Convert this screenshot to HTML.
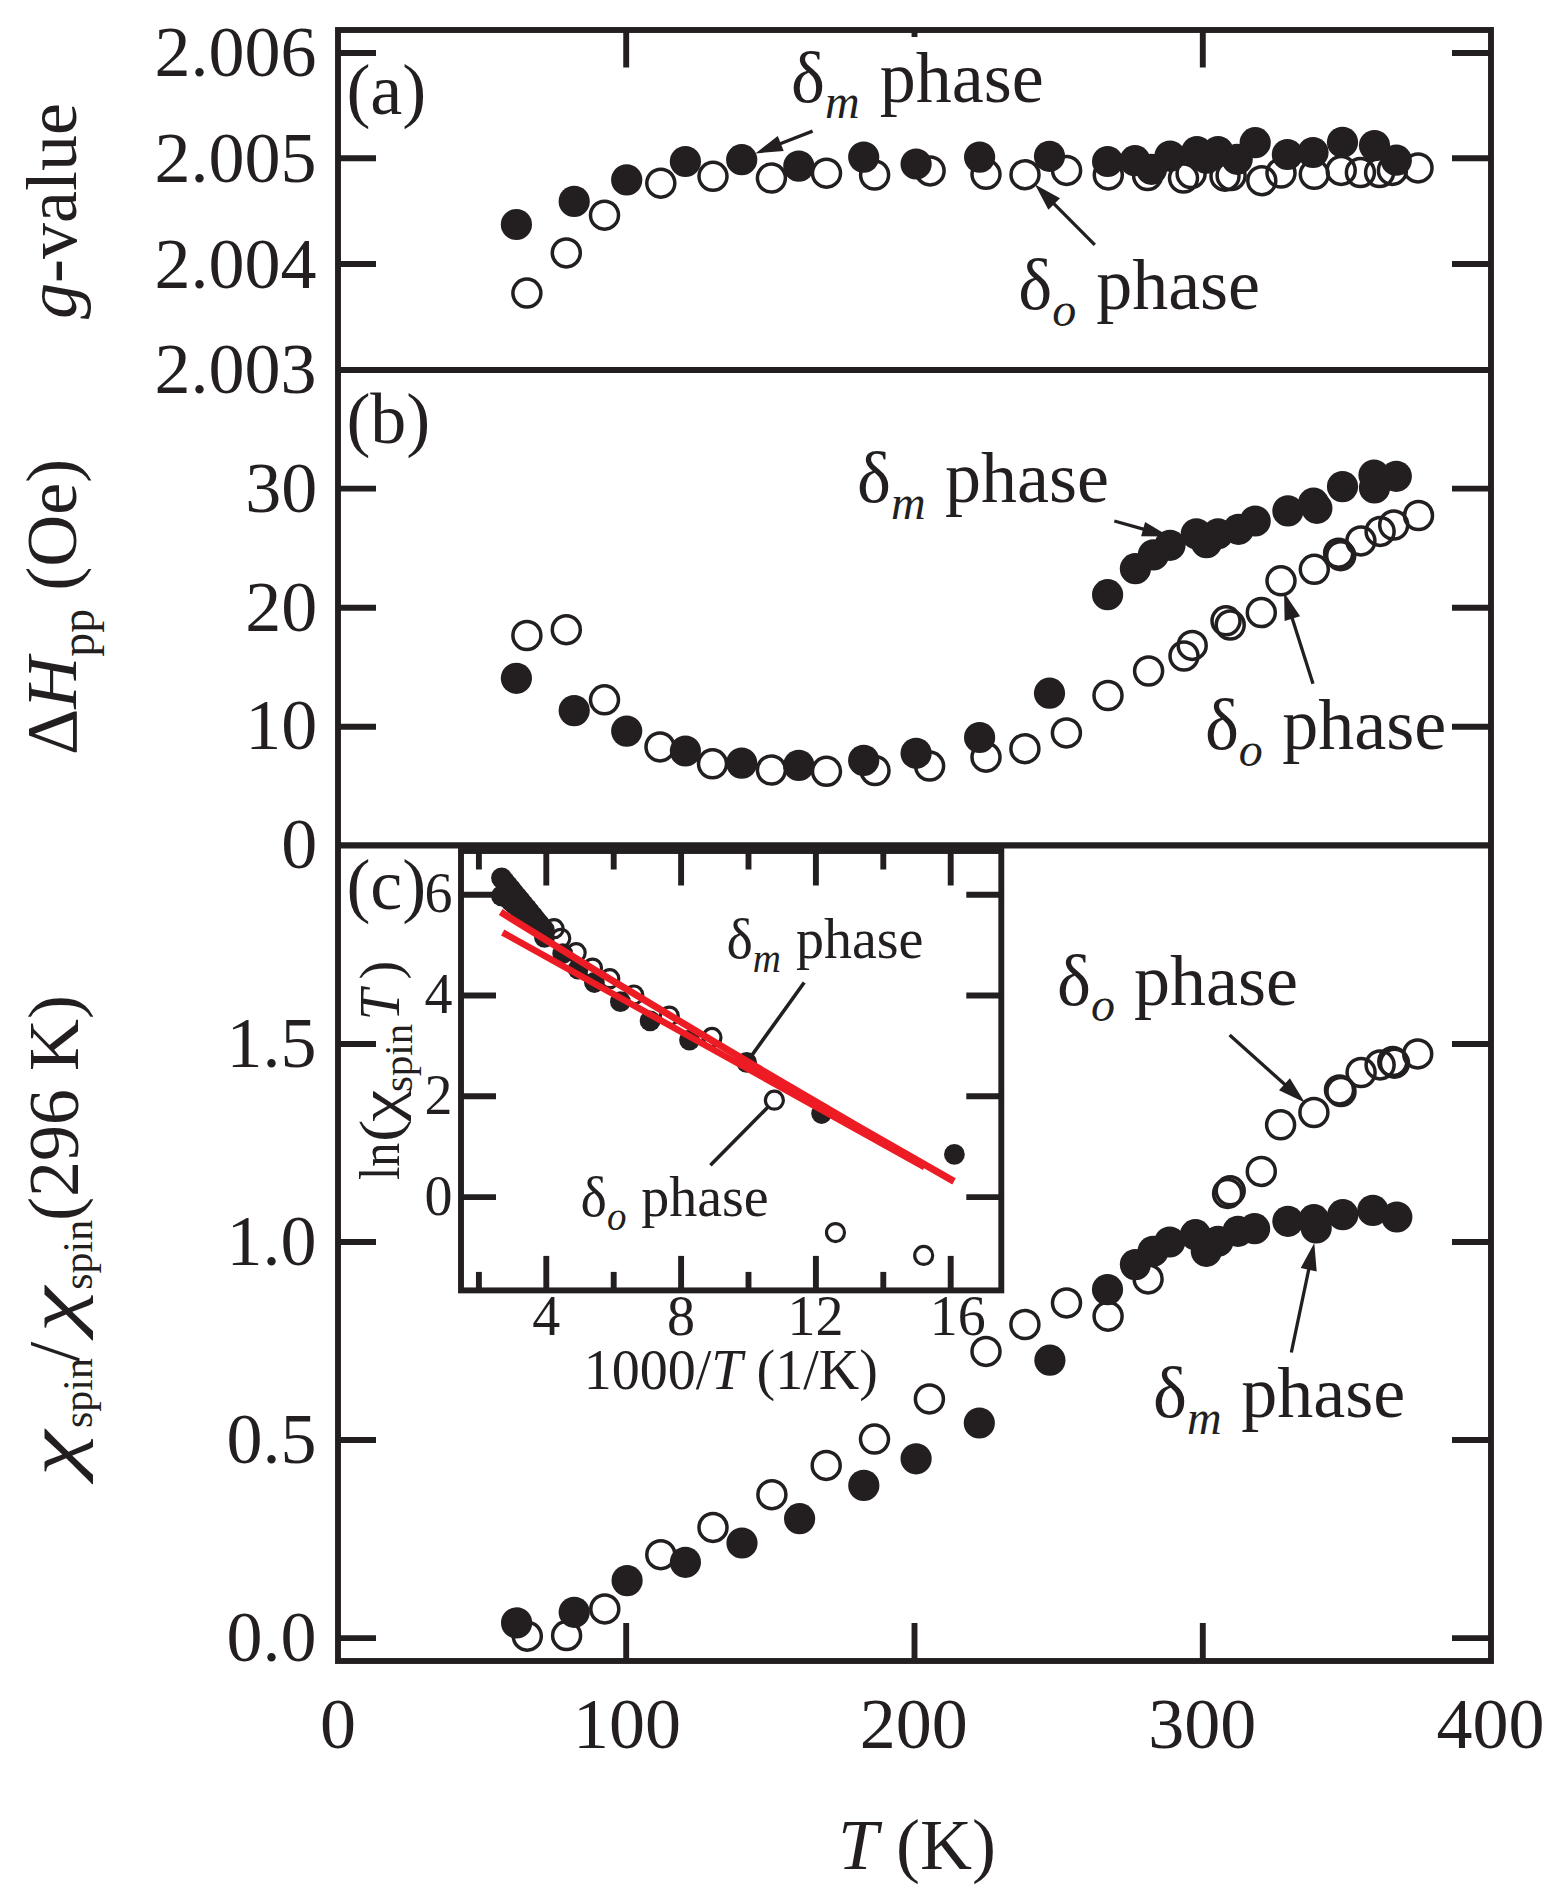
<!DOCTYPE html>
<html lang="en">
<head>
<meta charset="utf-8">
<title>ESR parameters versus temperature</title>
<style>
html,body{margin:0;padding:0;background:#fff;}
body{width:1562px;height:1902px;overflow:hidden;}
svg{display:block;}
text{font-family:"Liberation Serif","DejaVu Serif",serif;fill:#231f20;}
.m{font-size:72px;}
.s{font-size:56px;}
.i{font-style:italic;}
.f circle{fill:#231f20;}
.o circle{fill:none;stroke:#231f20;stroke-width:3.5;}
.oi circle{fill:none;stroke:#231f20;stroke-width:3.2;}
</style>
</head>
<body>
<svg width="1562" height="1902" viewBox="0 0 1562 1902">
<rect x="0" y="0" width="1562" height="1902" fill="#fff"/>

<g id="frame">
<rect x="338.0" y="30.0" width="1153.0" height="1631.0" fill="none" stroke="#231f20" stroke-width="5.9"/>
<line x1="338.0" y1="370.0" x2="1491.0" y2="370.0" stroke="#231f20" stroke-width="5.9" stroke-linecap="butt"/>
<line x1="338.0" y1="845.3" x2="1491.0" y2="845.3" stroke="#231f20" stroke-width="6.2" stroke-linecap="butt"/>
</g>
<g id="ticks">
<line x1="338.0" y1="53.0" x2="376.0" y2="53.0" stroke="#231f20" stroke-width="5.9" stroke-linecap="butt"/>
<line x1="1452.0" y1="53.0" x2="1491.0" y2="53.0" stroke="#231f20" stroke-width="5.9" stroke-linecap="butt"/>
<line x1="338.0" y1="158.2" x2="376.0" y2="158.2" stroke="#231f20" stroke-width="5.9" stroke-linecap="butt"/>
<line x1="1452.0" y1="158.2" x2="1491.0" y2="158.2" stroke="#231f20" stroke-width="5.9" stroke-linecap="butt"/>
<line x1="338.0" y1="264.0" x2="376.0" y2="264.0" stroke="#231f20" stroke-width="5.9" stroke-linecap="butt"/>
<line x1="1452.0" y1="264.0" x2="1491.0" y2="264.0" stroke="#231f20" stroke-width="5.9" stroke-linecap="butt"/>
<line x1="338.0" y1="488.6" x2="376.0" y2="488.6" stroke="#231f20" stroke-width="5.9" stroke-linecap="butt"/>
<line x1="1452.0" y1="488.6" x2="1491.0" y2="488.6" stroke="#231f20" stroke-width="5.9" stroke-linecap="butt"/>
<line x1="338.0" y1="607.7" x2="376.0" y2="607.7" stroke="#231f20" stroke-width="5.9" stroke-linecap="butt"/>
<line x1="1452.0" y1="607.7" x2="1491.0" y2="607.7" stroke="#231f20" stroke-width="5.9" stroke-linecap="butt"/>
<line x1="338.0" y1="726.8" x2="376.0" y2="726.8" stroke="#231f20" stroke-width="5.9" stroke-linecap="butt"/>
<line x1="1452.0" y1="726.8" x2="1491.0" y2="726.8" stroke="#231f20" stroke-width="5.9" stroke-linecap="butt"/>
<line x1="338.0" y1="1044.0" x2="376.0" y2="1044.0" stroke="#231f20" stroke-width="5.9" stroke-linecap="butt"/>
<line x1="1452.0" y1="1044.0" x2="1491.0" y2="1044.0" stroke="#231f20" stroke-width="5.9" stroke-linecap="butt"/>
<line x1="338.0" y1="1242.0" x2="376.0" y2="1242.0" stroke="#231f20" stroke-width="5.9" stroke-linecap="butt"/>
<line x1="1452.0" y1="1242.0" x2="1491.0" y2="1242.0" stroke="#231f20" stroke-width="5.9" stroke-linecap="butt"/>
<line x1="338.0" y1="1440.0" x2="376.0" y2="1440.0" stroke="#231f20" stroke-width="5.9" stroke-linecap="butt"/>
<line x1="1452.0" y1="1440.0" x2="1491.0" y2="1440.0" stroke="#231f20" stroke-width="5.9" stroke-linecap="butt"/>
<line x1="338.0" y1="1638.1" x2="376.0" y2="1638.1" stroke="#231f20" stroke-width="5.9" stroke-linecap="butt"/>
<line x1="1452.0" y1="1638.1" x2="1491.0" y2="1638.1" stroke="#231f20" stroke-width="5.9" stroke-linecap="butt"/>
<line x1="626.2" y1="30.0" x2="626.2" y2="67.5" stroke="#231f20" stroke-width="5.9" stroke-linecap="butt"/>
<line x1="1202.8" y1="30.0" x2="1202.8" y2="67.5" stroke="#231f20" stroke-width="5.9" stroke-linecap="butt"/>
<line x1="914.5" y1="30.0" x2="914.5" y2="37.0" stroke="#231f20" stroke-width="5.9" stroke-linecap="butt"/>
<line x1="626.2" y1="1661.0" x2="626.2" y2="1623.0" stroke="#231f20" stroke-width="5.9" stroke-linecap="butt"/>
<line x1="914.5" y1="1661.0" x2="914.5" y2="1623.0" stroke="#231f20" stroke-width="5.9" stroke-linecap="butt"/>
<line x1="1202.8" y1="1661.0" x2="1202.8" y2="1623.0" stroke="#231f20" stroke-width="5.9" stroke-linecap="butt"/>
</g>
<g id="ticklabels" class="m" text-anchor="end">
<text x="316.5" y="76.4">2.006</text>
<text x="316.5" y="182.1">2.005</text>
<text x="316.5" y="287.7">2.004</text>
<text x="316.5" y="393.4">2.003</text>
<text x="317.2" y="512.0">30</text>
<text x="317.2" y="630.9">20</text>
<text x="317.2" y="749.3">10</text>
<text x="317.2" y="867.8">0</text>
<text x="316.5" y="1066.6">1.5</text>
<text x="316.5" y="1264.6">1.0</text>
<text x="316.5" y="1462.6">0.5</text>
<text x="316.5" y="1660.7">0.0</text>
</g>
<g id="xticklabels" class="m" text-anchor="middle">
<text x="338.0" y="1748">0</text>
<text x="627.0" y="1748">100</text>
<text x="913.7" y="1748">200</text>
<text x="1202.2" y="1748">300</text>
<text x="1490.5" y="1748">400</text>
</g>
<g id="titles" class="m">
<text x="917" y="1869" text-anchor="middle"><tspan class="i">T</tspan> (K)</text>
<text transform="translate(75.8,211) rotate(-90)" text-anchor="middle"><tspan class="i">g</tspan>-value</text>
<text transform="translate(75.7,607) rotate(-90)" text-anchor="middle">Δ<tspan class="i">H</tspan><tspan font-size="48" dy="18">pp</tspan><tspan dy="-18"> (Oe)</tspan></text>
<g transform="translate(77.8,1484.8) rotate(-90)">
<text class="i" transform="translate(8.8,0) scale(1.43,1)">χ</text>
<text x="56.8" y="14.4" font-size="42">spin</text>
<text x="123" y="0">/</text>
<text class="i" transform="translate(152.6,0) scale(1.43,1)">χ</text>
<text x="195" y="14.4" font-size="42">spin</text>
<text x="263.8" y="0">(296 K)</text>
</g>
</g>
<g id="panellabels" class="m">
<text x="346.4" y="113.8">(a)</text>
<text x="346.4" y="442.8">(b)</text>
<text x="346.4" y="908.8">(c)</text>
</g>
<g id="pa">
<g class="o"><circle cx="526.9" cy="293.1" r="14.0"/>
<circle cx="566.3" cy="252.9" r="14.0"/>
<circle cx="604.5" cy="215.2" r="14.0"/>
<circle cx="660.8" cy="183.2" r="14.0"/>
<circle cx="713.0" cy="176.3" r="14.0"/>
<circle cx="771.4" cy="178.1" r="14.0"/>
<circle cx="826.5" cy="173.2" r="14.0"/>
<circle cx="874.6" cy="175.0" r="14.0"/>
<circle cx="930.1" cy="170.9" r="14.0"/>
<circle cx="986.0" cy="174.3" r="14.0"/>
<circle cx="1025.0" cy="174.7" r="14.0"/>
<circle cx="1066.6" cy="170.4" r="14.0"/>
<circle cx="1108.3" cy="174.9" r="14.0"/>
<circle cx="1147.6" cy="175.5" r="14.0"/>
<circle cx="1183.5" cy="178.1" r="14.0"/>
<circle cx="1191.1" cy="173.5" r="14.0"/>
<circle cx="1225.0" cy="176.2" r="14.0"/>
<circle cx="1231.1" cy="175.5" r="14.0"/>
<circle cx="1261.8" cy="180.7" r="14.0"/>
<circle cx="1281.0" cy="173.0" r="14.0"/>
<circle cx="1314.3" cy="174.3" r="14.0"/>
<circle cx="1341.2" cy="170.4" r="14.0"/>
<circle cx="1360.4" cy="172.5" r="14.0"/>
<circle cx="1379.6" cy="172.5" r="14.0"/>
<circle cx="1392.4" cy="170.4" r="14.0"/>
<circle cx="1418.0" cy="167.9" r="14.0"/></g>
<g class="f"><circle cx="516.4" cy="224.5" r="15.6"/>
<circle cx="574.2" cy="201.4" r="15.6"/>
<circle cx="626.7" cy="179.9" r="15.6"/>
<circle cx="685.4" cy="161.5" r="15.6"/>
<circle cx="741.7" cy="159.7" r="15.6"/>
<circle cx="798.8" cy="166.1" r="15.6"/>
<circle cx="863.7" cy="157.1" r="15.6"/>
<circle cx="916.1" cy="164.0" r="15.6"/>
<circle cx="979.6" cy="157.1" r="15.6"/>
<circle cx="1049.5" cy="156.3" r="15.6"/>
<circle cx="1107.6" cy="161.5" r="15.6"/>
<circle cx="1135.0" cy="160.7" r="15.6"/>
<circle cx="1151.5" cy="169.3" r="15.6"/>
<circle cx="1170.0" cy="156.1" r="15.6"/>
<circle cx="1196.9" cy="151.6" r="15.6"/>
<circle cx="1206.5" cy="158.2" r="15.6"/>
<circle cx="1218.0" cy="151.6" r="15.6"/>
<circle cx="1237.2" cy="159.3" r="15.6"/>
<circle cx="1255.2" cy="142.7" r="15.6"/>
<circle cx="1287.4" cy="154.5" r="15.6"/>
<circle cx="1313.0" cy="152.5" r="15.6"/>
<circle cx="1342.5" cy="142.3" r="15.6"/>
<circle cx="1374.5" cy="145.6" r="15.6"/>
<circle cx="1396.3" cy="160.2" r="15.6"/></g>
<line x1="812.6" y1="131.1" x2="778.9" y2="144.2" stroke="#231f20" stroke-width="3.3" stroke-linecap="butt"/><polygon points="755.3,153.4 777.8,135.9 783.7,151.1" fill="#231f20"/>
<line x1="1094.8" y1="244.9" x2="1052.8" y2="202.6" stroke="#231f20" stroke-width="3.3" stroke-linecap="butt"/><polygon points="1035.0,184.6 1060.0,198.2 1048.4,209.7" fill="#231f20"/>
<text class="m" x="791" y="101.5">δ<tspan class="i" font-size="48" dy="16.5">m</tspan><tspan dy="-16.5" dx="2.2"> phase</tspan></text>
<text class="m" x="1018.2" y="309.0">δ<tspan class="i" font-size="48" dy="16.5">o</tspan><tspan dy="-16.5" dx="2.0"> phase</tspan></text>
</g>
<g id="pb">
<g class="o"><circle cx="526.9" cy="635.5" r="14.0"/>
<circle cx="566.3" cy="629.7" r="14.0"/>
<circle cx="604.5" cy="699.8" r="14.0"/>
<circle cx="660.0" cy="746.9" r="14.0"/>
<circle cx="712.5" cy="763.8" r="14.0"/>
<circle cx="771.4" cy="770.0" r="14.0"/>
<circle cx="826.5" cy="771.3" r="14.0"/>
<circle cx="875.0" cy="770.5" r="14.0"/>
<circle cx="929.6" cy="766.1" r="14.0"/>
<circle cx="986.0" cy="757.2" r="14.0"/>
<circle cx="1024.9" cy="748.7" r="14.0"/>
<circle cx="1066.4" cy="732.9" r="14.0"/>
<circle cx="1108.0" cy="695.5" r="14.0"/>
<circle cx="1148.6" cy="671.0" r="14.0"/>
<circle cx="1184.0" cy="656.0" r="14.0"/>
<circle cx="1192.2" cy="645.4" r="14.0"/>
<circle cx="1226.0" cy="620.8" r="14.0"/>
<circle cx="1230.2" cy="625.0" r="14.0"/>
<circle cx="1261.3" cy="612.6" r="14.0"/>
<circle cx="1281.0" cy="580.8" r="14.0"/>
<circle cx="1314.3" cy="569.3" r="14.0"/>
<circle cx="1338.6" cy="553.2" r="14.0"/>
<circle cx="1340.7" cy="555.7" r="14.0"/>
<circle cx="1360.9" cy="540.9" r="14.0"/>
<circle cx="1380.1" cy="531.4" r="14.0"/>
<circle cx="1393.7" cy="525.0" r="14.0"/>
<circle cx="1418.5" cy="515.5" r="14.0"/></g>
<g class="f"><circle cx="516.4" cy="678.3" r="15.6"/>
<circle cx="574.2" cy="710.6" r="15.6"/>
<circle cx="626.7" cy="731.1" r="15.6"/>
<circle cx="685.4" cy="751.0" r="15.6"/>
<circle cx="741.7" cy="763.1" r="15.6"/>
<circle cx="798.8" cy="765.4" r="15.6"/>
<circle cx="863.7" cy="760.4" r="15.6"/>
<circle cx="916.1" cy="753.3" r="15.6"/>
<circle cx="979.6" cy="737.5" r="15.6"/>
<circle cx="1049.5" cy="693.2" r="15.6"/>
<circle cx="1107.6" cy="594.7" r="15.6"/>
<circle cx="1135.4" cy="568.7" r="15.6"/>
<circle cx="1153.4" cy="554.9" r="15.6"/>
<circle cx="1170.0" cy="545.3" r="15.6"/>
<circle cx="1196.3" cy="533.8" r="15.6"/>
<circle cx="1206.5" cy="542.7" r="15.6"/>
<circle cx="1218.0" cy="533.8" r="15.6"/>
<circle cx="1238.5" cy="529.3" r="15.6"/>
<circle cx="1255.2" cy="521.0" r="15.6"/>
<circle cx="1287.9" cy="510.9" r="15.6"/>
<circle cx="1313.5" cy="503.2" r="15.6"/>
<circle cx="1316.9" cy="508.3" r="15.6"/>
<circle cx="1342.5" cy="486.6" r="15.6"/>
<circle cx="1374.0" cy="475.1" r="15.6"/>
<circle cx="1374.5" cy="487.9" r="15.6"/>
<circle cx="1396.3" cy="476.3" r="15.6"/></g>
<line x1="1114.3" y1="521.0" x2="1145.1" y2="529.7" stroke="#231f20" stroke-width="3.3" stroke-linecap="butt"/><polygon points="1169.4,536.6 1141.1,536.3 1145.1,522.0" fill="#231f20"/>
<line x1="1313.0" y1="683.8" x2="1291.7" y2="616.7" stroke="#231f20" stroke-width="3.3" stroke-linecap="butt"/><polygon points="1284.1,592.6 1300.1,616.2 1284.6,621.1" fill="#231f20"/>
<text class="m" x="857.1" y="502.0">δ<tspan class="i" font-size="48" dy="16.5">m</tspan><tspan dy="-16.5" dx="1.4"> phase</tspan></text>
<text class="m" x="1204.9" y="749.0">δ<tspan class="i" font-size="48" dy="16.5">o</tspan><tspan dy="-16.5" dx="1.4"> phase</tspan></text>
</g>
<g id="pc">
<g class="o"><circle cx="527.3" cy="1636.2" r="14.0"/>
<circle cx="566.6" cy="1635.6" r="14.0"/>
<circle cx="604.8" cy="1608.9" r="14.0"/>
<circle cx="660.8" cy="1554.7" r="14.0"/>
<circle cx="713.0" cy="1527.4" r="14.0"/>
<circle cx="771.9" cy="1494.7" r="14.0"/>
<circle cx="826.2" cy="1465.4" r="14.0"/>
<circle cx="874.5" cy="1439.1" r="14.0"/>
<circle cx="929.4" cy="1398.9" r="14.0"/>
<circle cx="986.0" cy="1351.4" r="14.0"/>
<circle cx="1024.9" cy="1324.5" r="14.0"/>
<circle cx="1066.5" cy="1302.9" r="14.0"/>
<circle cx="1108.1" cy="1316.2" r="14.0"/>
<circle cx="1148.1" cy="1278.9" r="14.0"/>
<circle cx="1227.6" cy="1193.4" r="14.0"/>
<circle cx="1230.2" cy="1190.8" r="14.0"/>
<circle cx="1261.3" cy="1171.4" r="14.0"/>
<circle cx="1280.6" cy="1124.8" r="14.0"/>
<circle cx="1313.9" cy="1112.5" r="14.0"/>
<circle cx="1339.5" cy="1089.9" r="14.0"/>
<circle cx="1341.0" cy="1091.5" r="14.0"/>
<circle cx="1361.1" cy="1072.5" r="14.0"/>
<circle cx="1380.1" cy="1064.9" r="14.0"/>
<circle cx="1392.8" cy="1061.6" r="14.0"/>
<circle cx="1394.5" cy="1063.2" r="14.0"/>
<circle cx="1417.7" cy="1053.9" r="14.0"/></g>
<g class="f"><circle cx="516.6" cy="1622.9" r="15.6"/>
<circle cx="574.2" cy="1612.3" r="15.6"/>
<circle cx="627.1" cy="1580.6" r="15.6"/>
<circle cx="685.4" cy="1562.3" r="15.6"/>
<circle cx="742.0" cy="1543.0" r="15.6"/>
<circle cx="799.6" cy="1518.7" r="15.6"/>
<circle cx="863.8" cy="1485.4" r="15.6"/>
<circle cx="916.1" cy="1458.8" r="15.6"/>
<circle cx="979.3" cy="1423.0" r="15.6"/>
<circle cx="1049.9" cy="1360.2" r="15.6"/>
<circle cx="1107.5" cy="1289.6" r="15.6"/>
<circle cx="1135.4" cy="1264.6" r="15.6"/>
<circle cx="1153.1" cy="1251.3" r="15.6"/>
<circle cx="1169.7" cy="1242.0" r="15.6"/>
<circle cx="1195.4" cy="1234.7" r="15.6"/>
<circle cx="1206.3" cy="1251.3" r="15.6"/>
<circle cx="1218.0" cy="1241.3" r="15.6"/>
<circle cx="1238.0" cy="1231.3" r="15.6"/>
<circle cx="1254.6" cy="1228.7" r="15.6"/>
<circle cx="1287.9" cy="1221.3" r="15.6"/>
<circle cx="1313.9" cy="1219.7" r="15.6"/>
<circle cx="1316.2" cy="1228.0" r="15.6"/>
<circle cx="1342.8" cy="1214.7" r="15.6"/>
<circle cx="1372.8" cy="1210.4" r="15.6"/>
<circle cx="1396.8" cy="1217.0" r="15.6"/></g>
<line x1="1229.6" y1="1034.9" x2="1286.0" y2="1085.6" stroke="#231f20" stroke-width="3.3" stroke-linecap="butt"/><polygon points="1304.8,1102.5 1279.0,1090.3 1289.9,1078.2" fill="#231f20"/>
<line x1="1291.3" y1="1352.5" x2="1309.1" y2="1267.8" stroke="#231f20" stroke-width="3.3" stroke-linecap="butt"/><polygon points="1314.3,1243.0 1316.7,1271.4 1300.7,1268.0" fill="#231f20"/>
<text class="m" x="1057.1" y="1004.8">δ<tspan class="i" font-size="48" dy="16.5">o</tspan><tspan dy="-16.5" dx="1.0"> phase</tspan></text>
<text class="m" x="1153.1" y="1417.0">δ<tspan class="i" font-size="48" dy="16.5">m</tspan><tspan dy="-16.5" dx="1.5"> phase</tspan></text>
</g>
<g id="inset">
<rect x="461.0" y="851.0" width="540.3" height="439.4000000000001" fill="#fff" stroke="#231f20" stroke-width="5.9"/>
<line x1="546.3" y1="1290.4" x2="546.3" y2="1255.9" stroke="#231f20" stroke-width="5.9" stroke-linecap="butt"/>
<line x1="546.3" y1="851.0" x2="546.3" y2="885.5" stroke="#231f20" stroke-width="5.9" stroke-linecap="butt"/>
<line x1="681.1" y1="1290.4" x2="681.1" y2="1255.9" stroke="#231f20" stroke-width="5.9" stroke-linecap="butt"/>
<line x1="681.1" y1="851.0" x2="681.1" y2="885.5" stroke="#231f20" stroke-width="5.9" stroke-linecap="butt"/>
<line x1="815.9" y1="1290.4" x2="815.9" y2="1255.9" stroke="#231f20" stroke-width="5.9" stroke-linecap="butt"/>
<line x1="815.9" y1="851.0" x2="815.9" y2="885.5" stroke="#231f20" stroke-width="5.9" stroke-linecap="butt"/>
<line x1="950.7" y1="1290.4" x2="950.7" y2="1255.9" stroke="#231f20" stroke-width="5.9" stroke-linecap="butt"/>
<line x1="950.7" y1="851.0" x2="950.7" y2="885.5" stroke="#231f20" stroke-width="5.9" stroke-linecap="butt"/>
<line x1="478.9" y1="1290.4" x2="478.9" y2="1271.9" stroke="#231f20" stroke-width="5.9" stroke-linecap="butt"/>
<line x1="478.9" y1="851.0" x2="478.9" y2="869.5" stroke="#231f20" stroke-width="5.9" stroke-linecap="butt"/>
<line x1="613.7" y1="1290.4" x2="613.7" y2="1271.9" stroke="#231f20" stroke-width="5.9" stroke-linecap="butt"/>
<line x1="613.7" y1="851.0" x2="613.7" y2="869.5" stroke="#231f20" stroke-width="5.9" stroke-linecap="butt"/>
<line x1="748.5" y1="1290.4" x2="748.5" y2="1271.9" stroke="#231f20" stroke-width="5.9" stroke-linecap="butt"/>
<line x1="748.5" y1="851.0" x2="748.5" y2="869.5" stroke="#231f20" stroke-width="5.9" stroke-linecap="butt"/>
<line x1="883.3" y1="1290.4" x2="883.3" y2="1271.9" stroke="#231f20" stroke-width="5.9" stroke-linecap="butt"/>
<line x1="883.3" y1="851.0" x2="883.3" y2="869.5" stroke="#231f20" stroke-width="5.9" stroke-linecap="butt"/>
<line x1="461.0" y1="1197.1" x2="496.0" y2="1197.1" stroke="#231f20" stroke-width="5.9" stroke-linecap="butt"/>
<line x1="1001.3" y1="1197.1" x2="966.3" y2="1197.1" stroke="#231f20" stroke-width="5.9" stroke-linecap="butt"/>
<line x1="461.0" y1="1096.3" x2="496.0" y2="1096.3" stroke="#231f20" stroke-width="5.9" stroke-linecap="butt"/>
<line x1="1001.3" y1="1096.3" x2="966.3" y2="1096.3" stroke="#231f20" stroke-width="5.9" stroke-linecap="butt"/>
<line x1="461.0" y1="995.5" x2="496.0" y2="995.5" stroke="#231f20" stroke-width="5.9" stroke-linecap="butt"/>
<line x1="1001.3" y1="995.5" x2="966.3" y2="995.5" stroke="#231f20" stroke-width="5.9" stroke-linecap="butt"/>
<line x1="461.0" y1="894.7" x2="496.0" y2="894.7" stroke="#231f20" stroke-width="5.9" stroke-linecap="butt"/>
<line x1="1001.3" y1="894.7" x2="966.3" y2="894.7" stroke="#231f20" stroke-width="5.9" stroke-linecap="butt"/>
<g class="s" text-anchor="end">
<text x="452.5" y="1214.7">0</text>
<text x="452.5" y="1113.9">2</text>
<text x="452.5" y="1013.1">4</text>
<text x="452.5" y="912.3">6</text>
</g>
<g class="s" text-anchor="middle">
<text x="546.3" y="1335">4</text>
<text x="681.1" y="1335">8</text>
<text x="815.6" y="1335">12</text>
<text x="957.7" y="1335">16</text>
<text x="730.8" y="1389.2">1000/<tspan class="i">T</tspan> (1/K)</text>
</g>
<g class="s" transform="translate(398.5,1179.1) rotate(-90)">
<text transform="translate(-1,0) scale(0.86,1)">ln</text>
<text transform="translate(37,0) scale(1.2,1)">(</text>
<text transform="translate(57.4,0) scale(1.29,1)">χ</text>
<text x="87" y="13.7" font-size="41">spin</text>
<text class="i" x="158.5" y="0">T</text>
<text x="199.5" y="0">)</text>
</g>
<polygon points="501.6,878.0 539.5,924.1 544.3,929.9 507.4,898.1 501.5,895.8" fill="#231f20"/>
<g class="f"><circle cx="501.6" cy="878.0" r="10.5"/>
<circle cx="504.8" cy="881.8" r="10.5"/>
<circle cx="507.9" cy="885.7" r="10.5"/>
<circle cx="511.1" cy="889.5" r="10.5"/>
<circle cx="514.2" cy="893.4" r="10.5"/>
<circle cx="517.4" cy="897.2" r="10.5"/>
<circle cx="520.5" cy="901.0" r="10.5"/>
<circle cx="523.7" cy="904.9" r="10.5"/>
<circle cx="526.9" cy="908.7" r="10.5"/>
<circle cx="530.0" cy="912.6" r="10.5"/>
<circle cx="533.2" cy="916.4" r="10.5"/>
<circle cx="536.3" cy="920.3" r="10.5"/>
<circle cx="539.5" cy="924.1" r="10.5"/>
<circle cx="501.5" cy="895.8" r="10.5"/>
<circle cx="507.4" cy="898.1" r="10.5"/>
<circle cx="511.1" cy="901.3" r="10.5"/>
<circle cx="514.8" cy="904.5" r="10.5"/>
<circle cx="518.5" cy="907.6" r="10.5"/>
<circle cx="522.2" cy="910.8" r="10.5"/>
<circle cx="525.8" cy="914.0" r="10.5"/>
<circle cx="529.5" cy="917.2" r="10.5"/>
<circle cx="533.2" cy="920.4" r="10.5"/>
<circle cx="536.9" cy="923.5" r="10.5"/>
<circle cx="540.6" cy="926.7" r="10.5"/>
<circle cx="544.3" cy="929.9" r="10.5"/><circle cx="544.5" cy="937.4" r="10.4"/>
<circle cx="562.7" cy="953.7" r="10.4"/>
<circle cx="578.1" cy="969.1" r="10.4"/>
<circle cx="594.4" cy="982.5" r="10.4"/>
<circle cx="620.4" cy="1001.7" r="10.4"/>
<circle cx="650.1" cy="1020.9" r="10.4"/>
<circle cx="689.5" cy="1040.1" r="10.4"/>
<circle cx="746.6" cy="1062.3" r="10.4"/>
<circle cx="821.6" cy="1113.5" r="10.4"/>
<circle cx="954.4" cy="1154.4" r="10.4"/></g>
<g class="oi"><circle cx="554.1" cy="928.7" r="9.0"/>
<circle cx="560.8" cy="938.3" r="9.0"/>
<circle cx="576.2" cy="952.7" r="9.0"/>
<circle cx="592.5" cy="968.1" r="9.0"/>
<circle cx="609.8" cy="978.7" r="9.0"/>
<circle cx="633.8" cy="995.0" r="9.0"/>
<circle cx="669.3" cy="1016.1" r="9.0"/>
<circle cx="712.0" cy="1037.4" r="9.0"/>
<circle cx="774.4" cy="1100.2" r="9.0"/>
<circle cx="835.5" cy="1232.6" r="9.0"/>
<circle cx="923.7" cy="1255.4" r="9.0"/></g>
<line x1="804.2" y1="982.5" x2="751.0" y2="1056.5" stroke="#231f20" stroke-width="3.6" stroke-linecap="butt"/>
<line x1="767.5" y1="1107.5" x2="710.4" y2="1165.3" stroke="#231f20" stroke-width="3.6" stroke-linecap="butt"/>
<path d="M500.7,912.0 Q727.35,1052.7 954.0,1181.4" fill="none" stroke="#ed1c24" stroke-width="7.0"/>
<line x1="502.7" y1="932.5" x2="924.5" y2="1167.1" stroke="#ed1c24" stroke-width="6.6" stroke-linecap="butt"/>
<text class="s" x="726.4" y="958.0">δ<tspan class="i" font-size="39" dy="13.5">m</tspan><tspan dy="-13.5" dx="1.0"> phase</tspan></text>
<text class="s" x="580.5" y="1216.0">δ<tspan class="i" font-size="39" dy="13.5">o</tspan><tspan dy="-13.5" dx="0.8"> phase</tspan></text>
</g>
</svg>
</body>
</html>
